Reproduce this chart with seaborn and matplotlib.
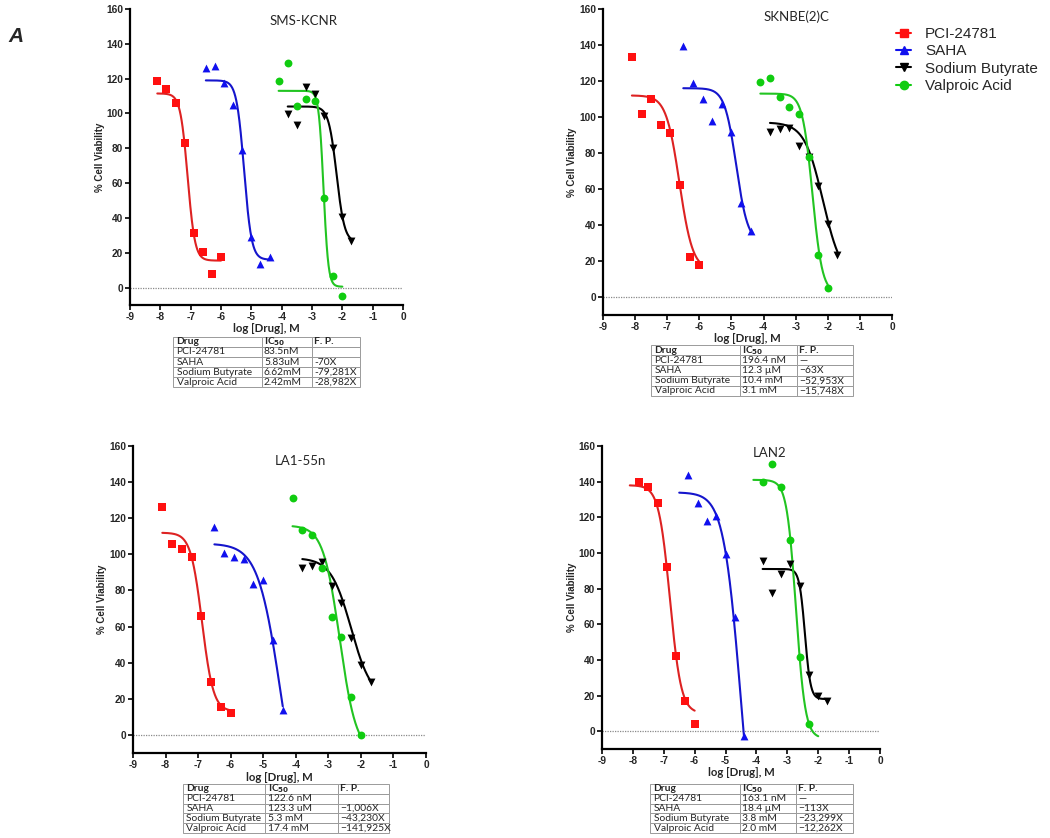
import numpy as np
import matplotlib
matplotlib.use("Agg")
import matplotlib.pyplot as plt
import seaborn as sns
from matplotlib.lines import Line2D

# drugs and styling
drugs = ["PCI-24781", "SAHA", "Sodium Butyrate", "Valproic Acid"]
point_colors = ["#ff1010", "#1010ee", "#000000", "#10cc10"]
curve_colors = ["#dd2222", "#1515cc", "#000000", "#22c422"]
drug_markers = ["s", "^", "v", "o"]

# log [Drug] doses (M)
pci_dose = [-8.1, -7.8, -7.5, -7.2, -6.9, -6.6, -6.3, -6.0]
saha_dose = [-6.5, -6.2, -5.9, -5.6, -5.3, -5.0, -4.7, -4.4]
nab_dose = [-3.8, -3.5, -3.2, -2.9, -2.6, -2.3, -2.0, -1.7]
vpa_dose = [-4.1, -3.8, -3.5, -3.2, -2.9, -2.6, -2.3, -2.0]

# % cell viability, SMS-KCNR
kcnr_pci = [118.7, 113.9, 106, 83, 31.6, 20.4, 7.6, 17.5]
kcnr_saha = [125.9, 127.4, 117.3, 105, 79.2, 29.1, 13.3, 17.5]
kcnr_nab = [99.6, 93.3, 115, 110.9, 98.3, 80.2, 40.8, 26.5]
kcnr_vpa = [118.7, 129.1, 104.4, 108.4, 107.4, 51.6, 6.9, -5]

# SKNBE(2)C
sknbe_pci = [133.6, 101.7, 109.8, 95.5, 90.9, 62.2, 22.3, 17.6]
sknbe_saha = [139.5, 119.1, 110, 98, 107, 91.8, 52, 36.7]
sknbe_nab = [91.8, 93.3, 94, 83.9, 77.9, 61.8, 40.3, 23.2]
sknbe_vpa = [119.3, 121.5, 111, 105.8, 101.5, 77.9, 23.2, 5.2]

# LA1-55n
la1_pci = [126.3, 105.8, 103, 98.4, 65.8, 29.3, 15.3, 12.2]
la1_saha = [115.2, 101, 98.6, 97.5, 83.7, 85.7, 52.4, 13.8]
la1_nab = [92.2, 93.3, 95.5, 82.4, 73, 53.5, 38.7, 29.3]
la1_vpa = [131.2, 113.7, 110.8, 92.5, 65.3, 54.4, 21, 0]

# LAN2 (first dose missing for some drugs)
lan2_pci = [140, 137, 128.3, 92.2, 42.2, 17.2, 4.3]
lan2_saha = [143.6, 128.1, 118, 121, 99.5, 63.9, -2.8]
lan2_nab = [95.6, 77.3, 88.1, 93.9, 81.2, 31.7, 19.6, 17.2]
lan2_vpa = [139.7, 149.7, 136.9, 107.4, 41.6, 4.3]

# fitted 4PL curves: (top, bottom, logIC50, hill)
kcnr_fit = [(111.5, 15.5, -7.1, 3.6), (119, 16, -5.24, 3.5), (104, 26, -2.19, 3.3), (113, 0.5, -2.62, 5.5)]
sknbe_fit = [(112, 15, -6.62, 2.1), (116, 30, -4.85, 2.4), (97, 10, -2.15, 1.5), (113, 2, -2.48, 2.8)]
la1_fit = [(112, 13, -6.88, 2.5), (106, -60, -4.46, 1.25), (98, 20, -2.3, 1.4), (116, -10, -2.65, 1.7)]
lan2_fit = [(138, 10, -6.8, 2.4), (134, -100, -4.5, 1.55), (91, 18, -2.43, 4.8), (141, -4, -2.72, 2.9)]

# tables
kcnr_ic50 = ["83.5nM", "5.83uM", "6.62mM", "2.42mM"]
kcnr_fp = ["", "-70X", "-79,281X", "-28,982X"]
sknbe_ic50 = ["196.4 nM", "12.3 µM", "10.4 mM", "3.1 mM"]
sknbe_fp = ["—", "−63X", "−52,953X", "−15,748X"]
la1_ic50 = ["122.6 nM", "123.3 uM", "5.3 mM", "17.4 mM"]
la1_fp = ["", "−1,006X", "−43,230X", "−141,925X"]
lan2_ic50 = ["163.1 nM", "18.4 µM", "3.8 mM", "2.0 mM"]
lan2_fp = ["—", "−113X", "−23,299X", "−12,262X"]

sns.set_theme(style="ticks")
plt.rcParams["font.family"] = ["Liberation Sans", "DejaVu Sans"]
plt.rcParams["axes.unicode_minus"] = False

W, H = 1050, 838
fig = plt.figure(figsize=(W / 100, H / 100), dpi=100)


def px_axes(left, right, top, bottom):
    return fig.add_axes([left / W, 1 - bottom / H, (right - left) / W, (bottom - top) / H])


full_doses = [pci_dose, saha_dose, nab_dose, vpa_dose]


def draw_panel(ax, title, title_pos, label_y, series, fits):
    ax.axhline(0, color="#8a8a8a", lw=0.9, ls=(0, (1, 1)), zorder=1)
    for i, (dose, vals) in enumerate(series):
        top, bot, c, h = fits[i]
        xs = np.linspace(full_doses[i][0], full_doses[i][-1], 200)
        ys = bot + (top - bot) / (1 + 10 ** ((xs - c) * h))
        sns.lineplot(x=xs, y=ys, ax=ax, color=curve_colors[i], lw=1.5,
                     sort=False, estimator=None, zorder=2)
        sns.scatterplot(x=dose, y=vals, ax=ax, color=point_colors[i],
                        marker=drug_markers[i], s=32, linewidth=0, zorder=3)
    ax.set_xlim(-9, 0)
    ax.set_ylim(-10, 160)
    ax.set_xticks(range(-9, 1))
    ax.set_yticks(range(0, 161, 20))
    sns.despine(ax=ax)
    for sp in ["left", "bottom"]:
        ax.spines[sp].set_linewidth(1.6)
        ax.spines[sp].set_color("black")
    ax.tick_params(width=1.4, length=3.5, direction="out", labelsize=7.3, pad=1.5)
    for lab in ax.get_xticklabels() + ax.get_yticklabels():
        lab.set_fontweight("bold")
    ax.set_xlabel("log [Drug], M", fontsize=8.2, fontweight="bold", family=["Lato", "DejaVu Sans"])
    ax.xaxis.set_label_coords(0.5, label_y)
    ax.set_ylabel("% Cell Viability", fontsize=7, fontweight="bold",
                  family=["Liberation Sans Narrow", "Liberation Sans"])
    ax.yaxis.set_label_coords(-0.09, 0.5)
    ax.text(title_pos[0], title_pos[1], title, transform=ax.transAxes, ha="center",
            va="center", fontsize=9.5, family=["Lato", "DejaVu Sans"])


def draw_table(left, right, top, bottom, cols, ic50, fp, aligns):
    tax = fig.add_axes([left / W, 1 - bottom / H, (right - left) / W, (bottom - top) / H])
    tax.axis("off")
    rows = [["Drug", r"IC$_{\mathbf{50}}$", "F. P."]] + [[d, a, b] for d, a, b in zip(drugs, ic50, fp)]
    widths = [c / sum(cols) for c in cols]
    tb = tax.table(cellText=rows, colWidths=widths, bbox=[0, 0, 1, 1], cellLoc="left")
    tb.auto_set_font_size(False)
    for (r, c), cell in tb.get_celld().items():
        cell.set_edgecolor("#9a9a9a")
        cell.set_linewidth(0.7)
        cell.PAD = 0.04
        cell.get_text().set_fontsize(7.4)
        cell.get_text().set_family(["Lato", "DejaVu Sans"])
        if r == 0:
            cell.get_text().set_fontweight("bold")
        else:
            cell._loc = aligns[c]


draw_panel(px_axes(130, 403, 9, 305), "SMS-KCNR", (0.634, 0.96), -0.062,
           [(pci_dose, kcnr_pci), (saha_dose, kcnr_saha), (nab_dose, kcnr_nab), (vpa_dose, kcnr_vpa)],
           kcnr_fit)
draw_panel(px_axes(603, 892, 9, 315), "SKNBE(2)C", (0.671, 0.974), -0.06,
           [(pci_dose, sknbe_pci), (saha_dose, sknbe_saha), (nab_dose, sknbe_nab), (vpa_dose, sknbe_vpa)],
           sknbe_fit)
draw_panel(px_axes(133, 426, 446, 753), "LA1-55n", (0.573, 0.951), -0.062,
           [(pci_dose, la1_pci), (saha_dose, la1_saha), (nab_dose, la1_nab), (vpa_dose, la1_vpa)],
           la1_fit)
draw_panel(px_axes(602, 880, 446, 749), "LAN2", (0.604, 0.978), -0.06,
           [(pci_dose[1:], lan2_pci), (saha_dose[1:], lan2_saha), (nab_dose, lan2_nab), (vpa_dose[1:7], lan2_vpa)],
           lan2_fit)

draw_table(173, 360, 337, 387, [89, 50, 48], kcnr_ic50, kcnr_fp, ["left", "left", "left"])
draw_table(651, 853, 345, 396, [89, 57, 56], sknbe_ic50, sknbe_fp, ["left", "center", "center"])
draw_table(183, 389, 784, 833, [82, 73, 51], la1_ic50, la1_fp, ["left", "left", "center"])
draw_table(650, 853, 784, 833, [90, 56, 57], lan2_ic50, lan2_fp, ["left", "center", "center"])

handles = [Line2D([], [], color=point_colors[i], marker=drug_markers[i], markersize=6,
                  lw=1.5) for i in range(4)]
fig.legend(handles, drugs, loc="upper left", bbox_to_anchor=(896 / W, 1 - 27 / H),
           frameon=False, fontsize=11, handlelength=1.0, handletextpad=0.9,
           labelspacing=0.22, borderaxespad=0, borderpad=0)

fig.text(8 / W, 1 - 36 / H, "A", fontsize=15, fontweight="bold", fontstyle="italic",
         va="center", ha="left")

fig.savefig("out.png", dpi=100)
